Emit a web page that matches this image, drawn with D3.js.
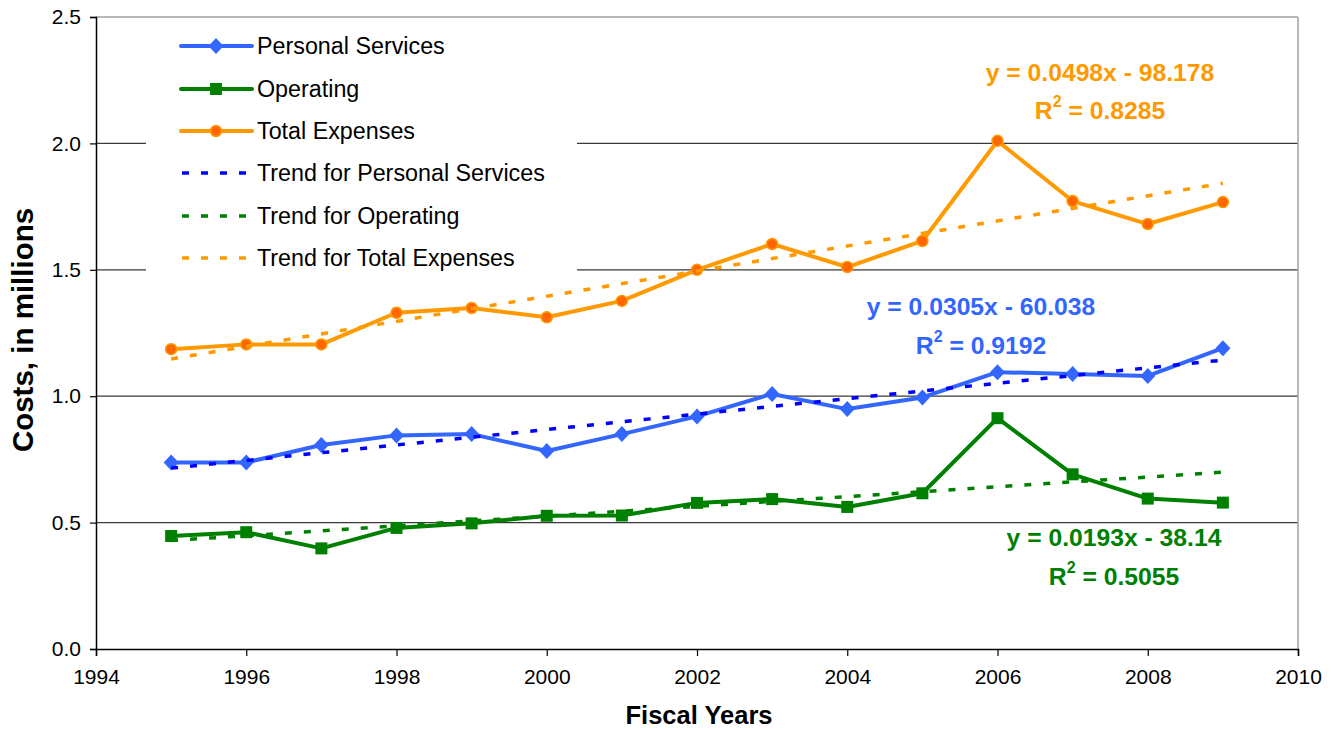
<!DOCTYPE html>
<html><head><meta charset="utf-8">
<script src="https://cdn.jsdelivr.net/npm/d3@7"></script>
<style>body{margin:0;background:#fff}svg{display:block;font-family:"Liberation Sans",Arial,sans-serif}</style>
</head><body><svg id="c" width="1331" height="729"></svg>
<script>
const years = [1995,1996,1997,1998,1999,2000,2001,2002,2003,2004,2005,2006,2007,2008,2009];
const personalServices = [0.738,0.738,0.807,0.845,0.850,0.783,0.850,0.920,1.009,0.949,0.995,1.095,1.088,1.080,1.190];
const operating = [0.447,0.462,0.398,0.479,0.497,0.527,0.528,0.578,0.593,0.562,0.616,0.913,0.691,0.595,0.579];
const totalExpenses = [1.186,1.205,1.205,1.330,1.349,1.312,1.377,1.500,1.602,1.511,1.614,2.010,1.772,1.681,1.768];
const yTicks = [0,0.5,1.0,1.5,2.0,2.5];
const xTicks = [1994,1996,1998,2000,2002,2004,2006,2008,2010];
const legendLabels = ["Personal Services","Operating","Total Expenses","Trend for Personal Services","Trend for Operating","Trend for Total Expenses"];
const equations = [
  {eq:"y = 0.0305x - 60.038", r2:"0.9192"},
  {eq:"y = 0.0193x - 38.14", r2:"0.5055"},
  {eq:"y = 0.0498x - 98.178", r2:"0.8285"}
];

const svg = d3.select("#c");
const L=96,R=1298,T=17,B=649;
const x = d3.scaleLinear().domain([1994,2010]).range([L,R]);
const y = d3.scaleLinear().domain([0,2.5]).range([B,T]);

const series = [
  {name:legendLabels[0], vals:personalServices, color:"#3366FF", trend:"#0000FF", marker:"diamond"},
  {name:legendLabels[1], vals:operating, color:"#008000", trend:"#008000", marker:"square"},
  {name:legendLabels[2], vals:totalExpenses, color:"#FF9900", trend:"#FF9900", marker:"circle"}
];

// gridlines
svg.append("g").selectAll("line").data(yTicks.filter(d=>d>0&&d<2.5)).join("line")
  .attr("x1",L).attr("x2",R).attr("y1",d=>y(d)).attr("y2",d=>y(d))
  .attr("stroke","#3a3a3a").attr("stroke-width",1.2);
// border top/right
svg.append("line").attr("x1",L).attr("x2",R).attr("y1",T).attr("y2",T).attr("stroke","#a0a0a0").attr("stroke-width",1.5);
svg.append("line").attr("x1",R).attr("x2",R).attr("y1",T).attr("y2",B).attr("stroke","#a0a0a0").attr("stroke-width",1.5);

// legend background
svg.append("rect").attr("x",146).attr("y",22).attr("width",431).attr("height",258).attr("fill","#fff");

// axes
const yAxis = d3.axisLeft(y).tickValues(yTicks).tickFormat(d3.format(".1f")).tickSize(6).tickPadding(9);
const gy = svg.append("g").attr("transform",`translate(${L},0)`).call(yAxis);
const xAxis = d3.axisBottom(x).tickValues(xTicks).tickFormat(d3.format("d")).tickSize(7).tickPadding(13);
const gx = svg.append("g").attr("transform",`translate(0,${B})`).call(xAxis);
[gx,gy].forEach(g=>{
  g.select(".domain").attr("stroke","#000").attr("stroke-width",1.5);
  g.selectAll(".tick line").attr("stroke","#000").attr("stroke-width",1.2);
  g.selectAll(".tick text").attr("font-size",21).attr("fill","#000").attr("font-family","Liberation Sans, Arial, sans-serif");
});

// axis titles
svg.append("text").attr("x",699).attr("y",724).attr("text-anchor","middle")
  .attr("font-size",25.5).attr("font-weight","bold").text("Fiscal Years");
svg.append("text").attr("transform","translate(33,330) rotate(-90)").attr("text-anchor","middle")
  .attr("font-size",29.5).attr("font-weight","bold").text("Costs, in millions");

const line = d3.line().x((d,i)=>x(years[i])).y(d=>y(d));

function drawMarker(g, type, cx, cy, color){
  if(type==="diamond"){
    g.append("path").attr("d",`M${cx},${cy-8}L${cx+7.5},${cy}L${cx},${cy+8}L${cx-7.5},${cy}Z`).attr("fill",color);
  } else if(type==="square"){
    g.append("rect").attr("x",cx-6).attr("y",cy-6).attr("width",12).attr("height",12).attr("fill",color);
  } else {
    g.append("circle").attr("cx",cx).attr("cy",cy).attr("r",5.5).attr("fill","#FF6600").attr("stroke","#FF9900").attr("stroke-width",1.5);
  }
}

// series
series.forEach(s=>{
  svg.append("path").datum(s.vals).attr("d",line).attr("fill","none")
    .attr("stroke",s.color).attr("stroke-width",4).attr("stroke-linejoin","round");
  const g = svg.append("g");
  s.vals.forEach((v,i)=>drawMarker(g,s.marker,x(years[i]),y(v),s.color));
});

// trend lines (least squares)
function fit(vals){
  const mx=d3.mean(years), my=d3.mean(vals);
  let sxy=0,sxx=0; years.forEach((yr,i)=>{sxy+=(yr-mx)*(vals[i]-my);sxx+=(yr-mx)*(yr-mx);});
  const b=sxy/sxx; return {b,a:my-b*mx};
}
series.forEach(s=>{
  const f=fit(s.vals);
  const x0=years[0], x1=years[years.length-1];
  svg.append("line").attr("x1",x(x0)).attr("x2",x(x1)).attr("y1",y(f.a+f.b*x0)).attr("y2",y(f.a+f.b*x1))
    .attr("stroke",s.trend).attr("stroke-width",3.5).attr("stroke-dasharray","7,12");
});

// legend
const lg = svg.append("g");
const rowY = [46,89,131,173,216,258];
legendLabels.forEach((lab,i)=>{
  const ry=rowY[i];
  if(i<3){
    const s=series[i];
    lg.append("line").attr("x1",181).attr("x2",252).attr("y1",ry).attr("y2",ry).attr("stroke",s.color).attr("stroke-width",4).attr("stroke-linecap","round");
    drawMarker(lg,s.marker,216,ry,s.color);
  } else {
    const s=series[i-3];
    lg.append("line").attr("x1",182).attr("x2",252).attr("y1",ry).attr("y2",ry).attr("stroke",s.trend).attr("stroke-width",3.5).attr("stroke-dasharray","7,12");
  }
  lg.append("text").attr("x",257).attr("y",ry+8).attr("font-size",23.3).attr("fill","#000").text(lab);
});

// equation labels
const eqPos = [{cx:981,y1:315,y2:354,color:"#3366FF"},{cx:1114,y1:546,y2:585,color:"#008000"},{cx:1100,y1:81,y2:119,color:"#FF9900"}];
equations.forEach((e,i)=>{
  const p=eqPos[i];
  svg.append("text").attr("x",p.cx).attr("y",p.y1).attr("text-anchor","middle").attr("font-size",24.7)
    .attr("font-weight","bold").attr("fill",p.color).text(e.eq);
  const t=svg.append("text").attr("x",p.cx).attr("y",p.y2).attr("text-anchor","middle").attr("font-size",24.7)
    .attr("font-weight","bold").attr("fill",p.color);
  t.append("tspan").text("R");
  t.append("tspan").attr("font-size",16).attr("dy",-12).text("2");
  t.append("tspan").attr("dy",12).text(" = "+e.r2);
});
</script></body></html>
